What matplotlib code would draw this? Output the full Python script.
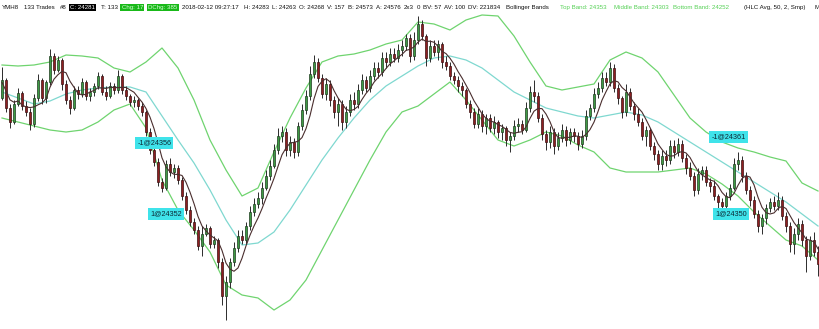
import matplotlib
matplotlib.use("Agg")
import matplotlib.pyplot as plt
import numpy as np
import pandas as pd

# ---------------- data (YMH8 bars, price points) ----------------
opens = [24447, 24465, 24437, 24423, 24441, 24452, 24439, 24433, 24421, 24447,
         24465, 24447, 24463, 24489, 24475, 24485, 24461, 24445, 24437, 24455,
         24451, 24463, 24449, 24453, 24459, 24469, 24453, 24449, 24459, 24455,
         24469, 24455, 24449, 24443, 24445, 24439, 24433, 24413, 24395, 24383,
         24363, 24357, 24381, 24373, 24377, 24365, 24349, 24335, 24323, 24315,
         24299, 24311, 24317, 24301, 24305, 24283, 24249, 24263, 24283, 24297,
         24309, 24305, 24319, 24333, 24341, 24347, 24357, 24369, 24379, 24395,
         24409, 24413, 24395, 24403, 24393, 24419, 24435, 24449, 24471, 24483,
         24467, 24451, 24461, 24445, 24433, 24441, 24423, 24433, 24445, 24441,
         24455, 24465, 24457, 24469, 24477, 24473, 24487, 24483, 24491, 24487,
         24495, 24499, 24507, 24489, 24505, 24521, 24509, 24487, 24499, 24493,
         24501, 24483, 24479, 24469, 24465, 24459, 24455, 24441, 24433, 24421,
         24431, 24419, 24427, 24417, 24423, 24413, 24417, 24405, 24409, 24419,
         24421, 24415, 24437, 24453, 24449, 24427, 24411, 24403, 24413, 24399,
         24407, 24415, 24405, 24413, 24409, 24401, 24409, 24429, 24437, 24451,
         24457, 24467, 24463, 24477, 24457, 24447, 24433, 24453, 24439, 24431,
         24423, 24409, 24415, 24399, 24391, 24381, 24389, 24385, 24399, 24393,
         24401, 24387, 24377, 24369, 24355, 24371, 24375, 24363, 24359, 24349,
         24343, 24339, 24349, 24357, 24381, 24385, 24369, 24355, 24345, 24331,
         24319, 24327, 24337, 24343, 24339, 24345, 24329, 24319, 24301, 24311,
         24321, 24305, 24289, 24305, 24293]

closes = [24465, 24437, 24423, 24441, 24452, 24439, 24433, 24421, 24447, 24465,
          24447, 24463, 24489, 24475, 24485, 24461, 24445, 24437, 24455, 24451,
          24463, 24449, 24453, 24459, 24469, 24453, 24449, 24459, 24455, 24469,
          24455, 24449, 24443, 24445, 24439, 24433, 24413, 24395, 24383, 24363,
          24357, 24381, 24373, 24377, 24365, 24349, 24335, 24323, 24315, 24299,
          24311, 24317, 24301, 24305, 24283, 24249, 24263, 24283, 24297, 24309,
          24305, 24319, 24333, 24341, 24347, 24357, 24369, 24379, 24395, 24409,
          24413, 24395, 24403, 24393, 24419, 24435, 24449, 24471, 24483, 24467,
          24451, 24461, 24445, 24433, 24441, 24423, 24433, 24445, 24441, 24455,
          24465, 24457, 24469, 24477, 24473, 24487, 24483, 24491, 24487, 24495,
          24499, 24507, 24489, 24505, 24521, 24509, 24487, 24499, 24493, 24501,
          24483, 24479, 24469, 24465, 24459, 24455, 24441, 24433, 24421, 24431,
          24419, 24427, 24417, 24423, 24413, 24417, 24405, 24409, 24419, 24421,
          24415, 24437, 24453, 24449, 24427, 24411, 24403, 24413, 24399, 24407,
          24415, 24405, 24413, 24409, 24401, 24409, 24429, 24437, 24451, 24457,
          24467, 24463, 24477, 24457, 24447, 24433, 24453, 24439, 24431, 24423,
          24409, 24415, 24399, 24391, 24381, 24389, 24385, 24399, 24393, 24401,
          24387, 24377, 24369, 24355, 24371, 24375, 24363, 24359, 24349, 24343,
          24339, 24349, 24357, 24381, 24385, 24369, 24355, 24345, 24331, 24319,
          24327, 24337, 24343, 24339, 24345, 24329, 24319, 24301, 24311, 24321,
          24305, 24289, 24305, 24293, 24281]

highs = [24478, 24467, 24441, 24445, 24457, 24454, 24444, 24437, 24451, 24471,
         24467, 24465, 24496, 24492, 24489, 24487, 24465, 24449, 24459, 24459,
         24467, 24465, 24457, 24462, 24473, 24471, 24459, 24463, 24462, 24475,
         24471, 24459, 24451, 24449, 24447, 24443, 24435, 24417, 24399, 24387,
         24367, 24385, 24387, 24381, 24380, 24368, 24353, 24339, 24327, 24319,
         24319, 24321, 24319, 24309, 24307, 24287, 24269, 24287, 24303, 24315,
         24315, 24323, 24339, 24347, 24353, 24363, 24375, 24385, 24401, 24417,
         24419, 24417, 24409, 24407, 24423, 24441, 24455, 24479, 24490, 24487,
         24471, 24467, 24465, 24449, 24447, 24445, 24439, 24451, 24453, 24461,
         24471, 24469, 24475, 24483, 24483, 24493, 24493, 24497, 24497, 24501,
         24505, 24511, 24511, 24513, 24529, 24525, 24511, 24505, 24505, 24505,
         24503, 24489, 24483, 24473, 24469, 24463, 24457, 24445, 24437, 24437,
         24435, 24431, 24431, 24429, 24425, 24421, 24419, 24413, 24425, 24427,
         24425, 24443, 24459, 24465, 24453, 24431, 24415, 24419, 24417, 24413,
         24421, 24419, 24417, 24417, 24413, 24415, 24435, 24441, 24457, 24463,
         24473, 24473, 24483, 24481, 24461, 24449, 24461, 24457, 24443, 24437,
         24427, 24419, 24417, 24403, 24395, 24395, 24395, 24405, 24405, 24407,
         24405, 24391, 24383, 24373, 24377, 24379, 24379, 24367, 24365, 24351,
         24347, 24353, 24361, 24387, 24393, 24389, 24373, 24359, 24349, 24335,
         24331, 24341, 24347, 24349, 24353, 24349, 24333, 24323, 24317, 24327,
         24325, 24309, 24309, 24313, 24299]

lows = [24445, 24433, 24417, 24421, 24439, 24435, 24429, 24415, 24418, 24444,
        24441, 24442, 24460, 24471, 24473, 24455, 24441, 24431, 24435, 24446,
        24448, 24445, 24444, 24449, 24456, 24450, 24445, 24447, 24451, 24452,
        24451, 24445, 24439, 24438, 24435, 24429, 24409, 24391, 24379, 24359,
        24353, 24355, 24369, 24367, 24361, 24345, 24331, 24319, 24311, 24295,
        24289, 24309, 24297, 24297, 24277, 24240, 24225, 24257, 24279, 24293,
        24301, 24301, 24315, 24329, 24337, 24341, 24355, 24365, 24377, 24391,
        24403, 24389, 24389, 24387, 24389, 24415, 24431, 24445, 24467, 24463,
        24447, 24445, 24439, 24427, 24419, 24415, 24417, 24429, 24435, 24437,
        24451, 24453, 24453, 24465, 24467, 24469, 24477, 24479, 24483, 24483,
        24489, 24495, 24483, 24485, 24501, 24505, 24479, 24483, 24489, 24485,
        24477, 24475, 24465, 24461, 24453, 24449, 24437, 24427, 24417, 24417,
        24413, 24411, 24413, 24411, 24407, 24405, 24399, 24393, 24405, 24413,
        24411, 24413, 24433, 24443, 24423, 24405, 24395, 24397, 24391, 24395,
        24403, 24399, 24401, 24403, 24395, 24397, 24405, 24425, 24433, 24447,
        24453, 24459, 24459, 24453, 24441, 24427, 24429, 24435, 24425, 24419,
        24405, 24399, 24395, 24385, 24375, 24375, 24379, 24381, 24387, 24389,
        24383, 24371, 24365, 24349, 24351, 24365, 24359, 24353, 24345, 24337,
        24333, 24335, 24345, 24355, 24375, 24363, 24351, 24339, 24327, 24313,
        24311, 24321, 24333, 24335, 24335, 24325, 24313, 24293, 24291, 24305,
        24299, 24273, 24285, 24289, 24269]

# Bollinger bands (HLC Avg, 50, 2) read every 4th bar
band_top = [24480, 24479, 24480, 24483, 24490, 24489, 24487, 24477, 24473, 24483,
            24497, 24477, 24445, 24405, 24375, 24349, 24357, 24393, 24427, 24457,
            24483, 24489, 24491, 24495, 24501, 24505, 24523, 24521, 24515, 24525,
            24530, 24529, 24509, 24483, 24459, 24455, 24458, 24461, 24485, 24493,
            24487, 24473, 24450, 24427, 24413, 24403, 24397, 24393, 24388, 24384,
            24362, 24354]
band_mid = [24453, 24447, 24441, 24444, 24451, 24455, 24457, 24458, 24458, 24453,
            24429, 24405, 24382, 24355, 24325, 24300, 24302, 24313, 24335, 24360,
            24385, 24407, 24427, 24445, 24459, 24469, 24479, 24487, 24489, 24485,
            24477, 24465, 24453, 24445, 24437, 24433, 24429, 24427, 24430, 24433,
            24430, 24423, 24413, 24403, 24393, 24383, 24373, 24363, 24353, 24343,
            24331, 24319]
band_bot = [24427, 24423, 24419, 24415, 24413, 24415, 24423, 24435, 24441, 24417,
            24365, 24335, 24315, 24293, 24260, 24250, 24247, 24235, 24245, 24265,
            24295, 24325, 24355, 24385, 24413, 24433, 24439, 24451, 24463, 24445,
            24425, 24405, 24399, 24405, 24413, 24409, 24400, 24393, 24377, 24373,
            24373, 24373, 24375, 24377, 24371, 24361, 24349, 24333, 24319, 24305,
            24299, 24285]
band_every = 4

trade_labels = ["-1@24356", "1@24352", "-1@24361", "1@24350"]
trade_bars = [33.8, 37.0, 177.3, 178.3]
trade_levels = [24402, 24331, 24408, 24331]

# ---------------- figure ----------------
W, H = 820, 329
fig = plt.figure(figsize=(W / 100, H / 100), dpi=100)
fig.patch.set_facecolor("white")
ax = fig.add_axes([0, 0, 1, 1])
ax.set_facecolor("white")
ax.axis("off")

o = np.array(opens, float)
h = np.array(highs, float)
l = np.array(lows, float)
c = np.array(closes, float)
n = len(c)
idx = np.arange(n)

# short moving average of HLC average (thin dark line)
hlc = (h + l + c) / 3.0
ma = pd.Series(hlc).rolling(5, min_periods=1).mean().values

bi = np.arange(len(band_top)) * band_every
ax.plot(bi, band_top, color="#6fd46f", lw=0.9, zorder=1)
ax.plot(bi, band_bot, color="#6fd46f", lw=0.9, zorder=1)
ax.plot(bi, band_mid, color="#7fd8d0", lw=0.9, zorder=1)

up = c >= o
ax.vlines(idx, l, h, color="#2b2b2b", lw=0.7, zorder=2)
body_lo = np.minimum(o, c)
body_h = np.maximum(np.abs(c - o), 0.8)
ax.bar(idx[up], body_h[up], bottom=body_lo[up], width=0.62,
       color="#3e9b45", edgecolor="#1e3a1e", linewidth=0.5, zorder=3)
ax.bar(idx[~up], body_h[~up], bottom=body_lo[~up], width=0.62,
       color="#8e1f22", edgecolor="#3a1010", linewidth=0.5, zorder=3)

ax.plot(idx, ma, color="#4a2e2e", lw=0.8, zorder=4)

for lab, xb, yv in zip(trade_labels, trade_bars, trade_levels):
    ax.text(xb, yv, lab, ha="left", va="center", fontsize=5.2,
            family="Liberation Sans", color="#0c2a36", zorder=6,
            bbox=dict(boxstyle="square,pad=0.3", facecolor="#3fe3ea",
                      edgecolor="none"))

ax.set_xlim(-0.5, n - 0.5)
ax.set_ylim(24545 - H, 24545)

# ---------------- header ----------------
hy = 1 - 7.5 / H
fs = 4.4
DARK = "#111111"
BANDC = "#55d055"
# (text, minimum x in px, gap after in px, colour, background)
segs = [
    ("YMH8", 2, 5, DARK, None),
    ("133 Trades", 20, 5, DARK, None),
    ("#8", 60, 3, DARK, None),
    ("C: 24281", 68, 4, "white", "#000000"),
    ("T: 133", 99, 4, DARK, None),
    ("Chg: 17", 121, 3, "#d8ffd8", "#19b919"),
    ("DChg: 385", 145, 3, "#d8ffd8", "#19b919"),
    ("2018-02-12 09:27:17", 180, 3, DARK, None),
    ("H: 24283", 244, 3, DARK, None),
    ("L: 24263", 272, 3, DARK, None),
    ("O: 24268", 0, 3, DARK, None),
    ("V: 157", 0, 3, DARK, None),
    ("B: 24573", 0, 3, DARK, None),
    ("A: 24576", 0, 3, DARK, None),
    ("2x3", 0, 3, DARK, None),
    ("0", 0, 3, DARK, None),
    ("BV: 57", 0, 3, DARK, None),
    ("AV: 100", 0, 3, DARK, None),
    ("DV: 221834", 0, 5, DARK, None),
    ("Bollinger Bands", 500, 6, DARK, None),
    ("Top Band: 24353", 560, 4, BANDC, None),
    ("Middle Band: 24303", 614, 4, BANDC, None),
    ("Bottom Band: 24252", 672, 6, BANDC, None),
    ("(HLC Avg, 50, 2, Smp)", 744, 5, DARK, None),
    ("M", 815, 0, DARK, None),
]
renderer = fig.canvas.get_renderer()
xcur = 0.0
for txt, xmin, gap, col, bg in segs:
    xp = max(xcur, xmin)
    kw = {}
    if bg is not None:
        kw["bbox"] = dict(boxstyle="square,pad=0.2", facecolor=bg, edgecolor="none")
    t = fig.text(xp / W, hy, txt, ha="left", va="center", fontsize=fs,
                 family="Liberation Sans", color=col, **kw)
    bb = t.get_window_extent(renderer)
    xcur = bb.x1 + gap + (2 if bg is not None else 0)

fig.savefig("out.png", dpi=100, facecolor="white")
